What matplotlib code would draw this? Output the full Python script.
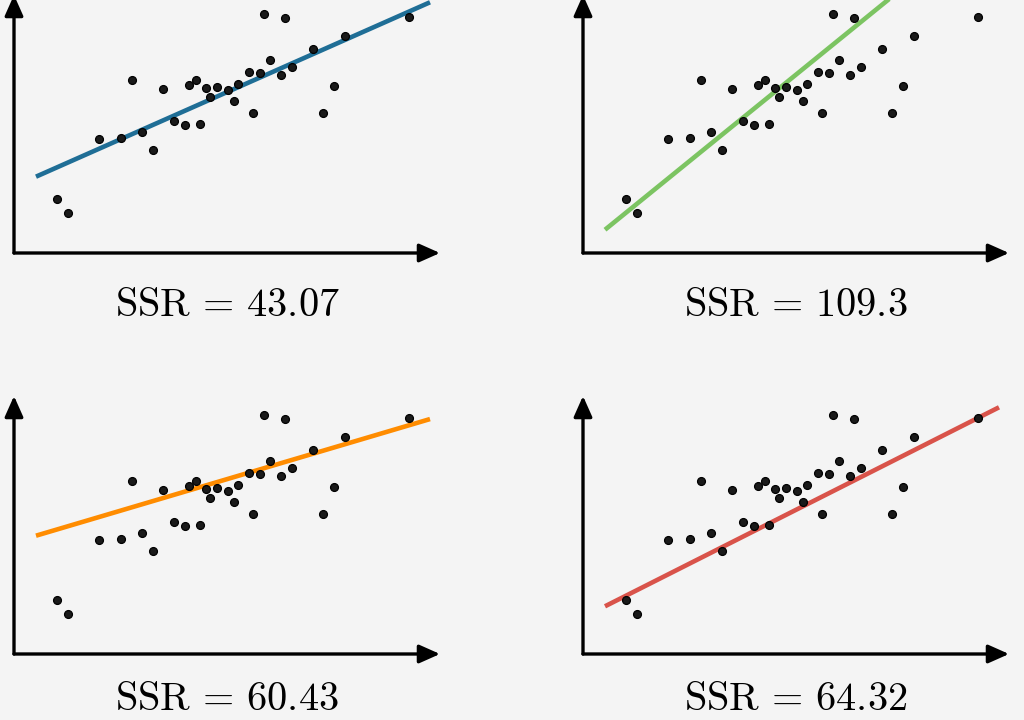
import numpy as np
import matplotlib
matplotlib.use("Agg")
import matplotlib.pyplot as plt

plt.rcParams['mathtext.fontset'] = 'cm'

# puntos de los datos (mismos en los cuatro paneles)
x_pts = [43, 54, 85, 107, 118, 128, 139, 149, 160, 171, 175, 182, 186, 192, 196, 203,
         214, 220, 224, 235, 239, 246, 250, 256, 267, 271, 278, 299, 309, 320, 331, 395]
y_pts = [54, 40, 114, 115, 173, 121, 103, 164, 132, 128, 168, 173, 129, 165, 156, 166,
         163, 152, 169, 181, 140, 180, 239, 193, 178, 235, 186, 204, 140, 167, 217, 236]

# rectas: pendiente, ordenada
pendientes = [0.4426, 0.812, 0.296, 0.505]
ordenadas = [66.6, 5.4, 111.8, 36.6]
colores = ['#1f6e96', '#7cc462', '#ff8c00', '#d9534a']
ssr = ['43.07', '109.3', '60.43', '64.32']

fondo = '#f4f4f4'
W, H = 1024, 720
fig = plt.figure(figsize=(W / 100, H / 100), dpi=100, facecolor=fondo)

# origen de cada panel en pixeles (x, y desde arriba)
origenes = [(14, 253), (583, 253), (14, 654), (583, 654)]
ancho, alto = 426, 258
# centro horizontal y linea base del texto
pos_texto = [(227, 316), (796, 316), (227, 710), (796, 710)]

for i in range(4):
    ox, oy = origenes[i]
    ax = fig.add_axes([ox / W, (H - oy) / H, ancho / W, alto / H])
    ax.set_facecolor(fondo)
    ax.set_xlim(0, ancho)
    ax.set_ylim(0, alto)
    for s in ax.spines.values():
        s.set_visible(False)
    ax.set_xticks([])
    ax.set_yticks([])

    # ejes con flechas
    flecha = dict(arrowstyle='-|>,head_length=0.9,head_width=0.4', lw=2.4,
                  color='black', mutation_scale=14, shrinkA=0, shrinkB=0)
    ax.annotate('', xy=(1, 0), xytext=(0, 0), xycoords='axes fraction',
                arrowprops=flecha, annotation_clip=False)
    ax.annotate('', xy=(0, 1), xytext=(0, 0), xycoords='axes fraction',
                arrowprops=flecha, annotation_clip=False)

    # recta de ajuste
    xl = np.array([22, 416])
    ax.plot(xl, ordenadas[i] + pendientes[i] * xl, color=colores[i], lw=3.3,
            solid_capstyle='butt', zorder=2)

    ax.scatter(x_pts, y_pts, s=32, c='#1a1a1a', edgecolors='black',
               linewidths=0.9, zorder=3)

    cx, cy = pos_texto[i]
    fig.text(cx / W, 1 - cy / H, r'$\mathrm{SSR}\,=\,' + ssr[i] + '$',
             ha='center', va='baseline', fontsize=29)

fig.savefig('out.png', dpi=100, facecolor=fondo)
